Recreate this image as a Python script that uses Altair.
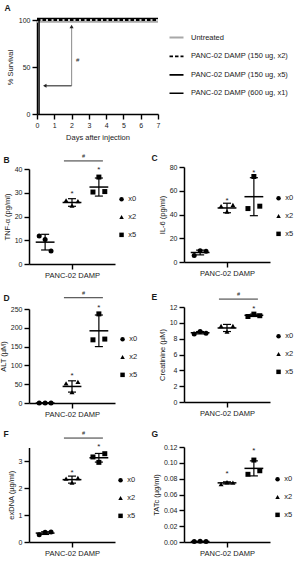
import altair as alt
import pandas as pd

W, H = 294, 577
FONT = "Liberation Sans"
INK = "#1a1a1a"

# ---------------- Panel A: survival ----------------
series_names = ["Untreated", "PANC-02 DAMP (150 ug, x2)",
                "PANC-02 DAMP (150 ug, x5)", "PANC-02 DAMP (600 ug, x1)"]
untreated_day = [0, 7]
untreated_surv = [98.2, 98.2]
damp150x2_day = [0, 7]
damp150x2_surv = [100, 100]
damp150x5_day = [0, 7]
damp150x5_surv = [101.6, 101.6]
damp600x1_day = [0, 0.12, 0.12]
damp600x1_surv = [100, 100, 0]
day_ticks = [0, 1, 2, 3, 4, 5, 6, 7]
surv_ticks = [0, 50, 100]

arrow_up_day = [2, 2]
arrow_up_surv = [30, 93]
arrow_left_day = [2, 0.45]
arrow_left_surv = [30, 30]
hash_a_day = [2.35]
hash_a_surv = [57]

# ---------------- Panels B-G: dot plots ----------------
groups = ["x0", "x2", "x5"]
group_pos = [-1, 0, 1]

tnf_points = [[11.8, 10.3, 5.5], [26.8, 24.6, 26.5], [30.3, 36.6, 30.5]]
tnf_mean = [9.2, 25.9, 32.4]
tnf_sd = [3.3, 1.6, 3.8]
tnf_star = [None, 30.3, 40.4]
tnf_bracket = 43.4

il6_points = [[5.5, 9.5, 9.0], [47, 42.5, 48], [45, 72, 47]]
il6_mean = [8, 45.5, 55]
il6_sd = [2, 4, 16]
il6_star = [None, 53, 77]
il6_bracket = None

alt_points = [[0, 0, 0], [52, 29, 56], [168, 237, 170]]
alt_mean = [0, 44, 192]
alt_sd = [0, 15, 42]
alt_star = [None, 77, 258]
alt_bracket = 280

creat_points = [[8.6, 8.9, 8.7], [9.6, 8.9, 9.6], [10.8, 11.1, 10.9]]
creat_mean = [8.75, 9.35, 10.95]
creat_sd = [0.15, 0.45, 0.15]
creat_star = [None, None, 12.0]
creat_bracket = 13.0

exdna_points = [[0.27, 0.36, 0.37], [2.35, 2.2, 2.37], [3.15, 2.95, 3.27]]
exdna_mean = [0.33, 2.31, 3.12]
exdna_sd = [0.05, 0.13, 0.16]
exdna_star = [None, 2.63, 3.6]
exdna_bracket = 3.85

tatc_points = [[0.0005, 0.0008, 0.0005], [0.073, 0.0755, 0.075], [0.0855, 0.1035, 0.09]]
tatc_mean = [0.0006, 0.0747, 0.093]
tatc_sd = [0.0002, 0.0013, 0.0095]
tatc_star = [None, 0.088, 0.117]
tatc_bracket = None

# ---------------- layout (pixel frames of each panel) ----------------
# (x_left, x_right, y_bottom, y_top)
frame_A = (37, 158, 114, 20)
frame_B = (29, 115, 264, 169)
frame_C = (184, 270, 262, 167)
frame_D = (29, 115, 403, 309)
frame_E = (184, 270, 402, 307)
frame_F = (29, 115, 542, 447.5)
frame_G = (184, 270, 542, 447)

LETTER = dict(titleAlign="left", titleBaseline="middle", titleAngle=0, titleFontSize=8.5,
              titleFontWeight="bold", titleColor=INK, titleFont=FONT)

# ---------- letter "A" host (invisible) ----------
letterA = alt.Chart(pd.DataFrame({"v": [0]})).mark_point(opacity=0).encode(
    x=alt.X("v:Q", scale=alt.Scale(domain=[0, 1], range=[0, 1]),
            axis=alt.Axis(orient="bottom", offset=-H, domain=False, ticks=False, labels=False,
                          title="A", titleX=4, titleY=7, **LETTER)),
    y=alt.Y("v:Q", scale=alt.Scale(domain=[0, 1], range=[1, 0]), axis=None),
)

# ---------- panel A ----------
line_colors = ["#a8a8a8", "#000000", "#000000", "#000000"]
line_dashes = [[1, 0], [3.5, 2], [1, 0], [1, 0]]
line_widths = [2.2, 1.4, 1.4, 2.6]

rows = []
for name, d, s in zip(series_names,
                      [untreated_day, damp150x2_day, damp150x5_day, damp600x1_day],
                      [untreated_surv, damp150x2_surv, damp150x5_surv, damp600x1_surv]):
    for i, (dd, ss) in enumerate(zip(d, s)):
        rows.append(dict(series=name, day=dd, surv=ss, idx=i))
surv_df = pd.DataFrame(rows)

xl, xr, yb, yt = frame_A
xA = alt.X("day:Q", scale=alt.Scale(domain=[0, 7], range=[xl, xr], nice=False, zero=False),
           axis=alt.Axis(orient="bottom", offset=yb - H, values=day_ticks, format="d",
                         title="Days after injection", titlePadding=5, labelFontSize=7))
yA = alt.Y("surv:Q", scale=alt.Scale(domain=[0, 100], range=[yb, yt], nice=False, zero=False),
           axis=alt.Axis(orient="left", offset=-xl, values=surv_ticks, title="% Survival",
                         titlePadding=4))

legA = alt.Legend(orient="none", legendX=168, legendY=29, title=None, symbolType="stroke",
                  symbolSize=196, symbolStrokeWidth=1.8, labelFontSize=7.5, labelOffset=6,
                  rowPadding=6.4, labelLimit=300, labelColor=INK, labelFont=FONT)

linesA = alt.Chart(surv_df).mark_line(strokeCap="butt").encode(
    x=xA, y=yA,
    color=alt.Color("series:N", scale=alt.Scale(domain=series_names, range=line_colors), legend=legA),
    strokeDash=alt.StrokeDash("series:N", scale=alt.Scale(domain=series_names, range=line_dashes),
                              legend=legA),
    strokeWidth=alt.StrokeWidth("series:N", scale=alt.Scale(domain=series_names, range=line_widths),
                                legend=None),
    order="idx:Q",
)
up_df = pd.DataFrame({"day": arrow_up_day, "surv": arrow_up_surv})
left_df = pd.DataFrame({"day": arrow_left_day, "surv": arrow_left_surv})
hash_df = pd.DataFrame({"day": hash_a_day, "surv": hash_a_surv})
upA = alt.Chart(up_df).mark_line(color="#9a9a9a", strokeWidth=1.2).encode(x=xA, y=yA)
upHead = alt.Chart(up_df.iloc[[1]]).mark_point(shape="triangle-up", filled=True, color="#222222",
                                              size=16, opacity=1).encode(x=xA, y=yA)
leftA = alt.Chart(left_df).mark_line(color="#3a3a3a", strokeWidth=1.2).encode(x=xA, y=yA)
leftHead = alt.Chart(left_df.iloc[[1]]).mark_point(shape="triangle-left", filled=True,
                                                  color="#222222", size=16, opacity=1
                                                  ).encode(x=xA, y=yA)
hashA = alt.Chart(hash_df).mark_text(text="#", fontSize=6, color=INK, font=FONT).encode(x=xA, y=yA)

panelA = alt.layer(linesA, upA, upHead, leftA, leftHead, hashA)


# ---------- dot panels ----------
def dot_panel(points, means, sds, stars, bracket, ylabel, ydomain, yticks, yfmt,
              frame, let, let_x, let_y, leg_x, leg_y):
    xl, xr, yb, yt = frame
    jit = 0.22
    prow = []
    for g, pos, vals in zip(groups, group_pos, points):
        for i, v in enumerate(vals):
            prow.append(dict(group=g, x=pos + (i - 1) * jit, y=v))
    pts = pd.DataFrame(prow)
    summ = pd.DataFrame({
        "group": groups, "x": group_pos, "mean": means,
        "lo": [m - s for m, s in zip(means, sds)],
        "hi": [m + s for m, s in zip(means, sds)],
    })
    summ["mx1"] = summ["x"] - 0.35
    summ["mx2"] = summ["x"] + 0.35
    summ["cx1"] = summ["x"] - 0.15
    summ["cx2"] = summ["x"] + 0.15

    xs = alt.Scale(domain=[-1.6, 1.6], range=[xl, xr], nice=False, zero=False)
    ys = alt.Scale(domain=ydomain, range=[yb, yt], nice=False, zero=False)
    xax = alt.Axis(orient="bottom", offset=yb - H, values=[0], labelExpr="'PANC-02 DAMP'",
                   title=let, titleX=let_x, titleY=let_y - yb, **LETTER)
    yax = alt.Axis(orient="left", offset=-xl, values=yticks, format=yfmt, title=ylabel,
                   titlePadding=3)

    def X(f):
        return alt.X(f, scale=xs, axis=xax)

    def Y(f):
        return alt.Y(f, scale=ys, axis=yax)

    base = alt.Chart(summ)
    err = base.mark_rule(color="black", strokeWidth=1.2).encode(x=X("x:Q"), y=Y("lo:Q"), y2="hi:Q")
    cap_lo = base.mark_rule(color="black", strokeWidth=1.2).encode(x=X("cx1:Q"), x2="cx2:Q", y=Y("lo:Q"))
    cap_hi = base.mark_rule(color="black", strokeWidth=1.2).encode(x=X("cx1:Q"), x2="cx2:Q", y=Y("hi:Q"))
    mean = base.mark_rule(color="black", strokeWidth=1.5).encode(x=X("mx1:Q"), x2="mx2:Q", y=Y("mean:Q"))
    leg = alt.Legend(orient="none", legendX=leg_x, legendY=leg_y, title=None, symbolSize=20,
                     symbolFillColor="black", symbolStrokeWidth=0, labelFontSize=7.5,
                     labelOffset=3, rowPadding=8.8, labelColor=INK, labelFont=FONT)
    dots = alt.Chart(pts).mark_point(filled=True, color="black", opacity=1, size=25).encode(
        x=X("x:Q"), y=Y("y:Q"),
        shape=alt.Shape("group:N", scale=alt.Scale(domain=groups,
                        range=["circle", "triangle-up", "square"]), legend=leg),
    )
    layers = [err, cap_lo, cap_hi, mean, dots]
    star_df = pd.DataFrame({"x": [p for p, s in zip(group_pos, stars) if s is not None],
                            "y": [s for s in stars if s is not None]})
    if len(star_df):
        layers.append(alt.Chart(star_df).mark_text(text="*", fontSize=8, dy=2, color=INK, font=FONT)
                      .encode(x=X("x:Q"), y=Y("y:Q")))
    if bracket is not None:
        br = pd.DataFrame({"x": [-0.3], "x2": [1.15], "y": [bracket], "xm": [0.43]})
        layers.append(alt.Chart(br).mark_rule(color="#333333", strokeWidth=1)
                      .encode(x=X("x:Q"), x2="x2:Q", y=Y("y:Q")))
        layers.append(alt.Chart(br).mark_text(text="#", fontSize=5.5, dy=-5, color=INK, font=FONT)
                      .encode(x=X("xm:Q"), y=Y("y:Q")))
    return alt.layer(*layers)


pB = dot_panel(tnf_points, tnf_mean, tnf_sd, tnf_star, tnf_bracket, "TNF-α (pg/ml)",
               [0, 40], [0, 10, 20, 30, 40], "d", frame_B, "B", 3, 159, 117.8, 195.5)
pC = dot_panel(il6_points, il6_mean, il6_sd, il6_star, il6_bracket, "IL-6 (pg/ml)",
               [0, 80], [0, 20, 40, 60, 80], "d", frame_C, "C", 151, 157, 274.8, 194.5)
pD = dot_panel(alt_points, alt_mean, alt_sd, alt_star, alt_bracket, "ALT (µM)",
               [0, 250], [0, 50, 100, 150, 200, 250], "d", frame_D, "D", 3, 297, 118.8, 335.5)
pE = dot_panel(creat_points, creat_mean, creat_sd, creat_star, creat_bracket, "Creatinine (µM)",
               [0, 12], [0, 2, 4, 6, 8, 10, 12], "d", frame_E, "E", 151, 296, 274.8, 332.5)
pF = dot_panel(exdna_points, exdna_mean, exdna_sd, exdna_star, exdna_bracket, "exDNA (µg/ml)",
               [0, 3.5], [0, 1, 2, 3], "d", frame_F, "F", 3, 433, 116.8, 476.5)
pG = dot_panel(tatc_points, tatc_mean, tatc_sd, tatc_star, tatc_bracket, "TATc (µg/ml)",
               [0, 0.12], [0, 0.02, 0.04, 0.06, 0.08, 0.10, 0.12], ".2f", frame_G, "G", 151, 433,
               273.8, 475.5)

chart = alt.layer(letterA, panelA, pB, pC, pD, pE, pF, pG).resolve_scale(
    x="independent", y="independent", shape="independent", color="independent",
    strokeDash="independent", strokeWidth="independent",
).resolve_legend(shape="independent", color="independent", strokeDash="independent").properties(
    width=W, height=H, padding=0, autosize=alt.AutoSizeParams(type="none"),
).configure_view(stroke=None).configure_axis(
    labelFont=FONT, titleFont=FONT, labelFontSize=7, titleFontSize=7.5,
    titleFontWeight="normal", labelColor=INK, titleColor=INK,
    domainColor="black", tickColor="black", domainWidth=1.5, tickWidth=1.4,
    tickSize=5, labelPadding=2, grid=False, labelFlush=False, labelOverlap=False,
).configure_axisX(labelFontSize=7.5).configure_legend(labelFont=FONT)

chart.save("out.html", embed_options={"renderer": "svg", "actions": False})
